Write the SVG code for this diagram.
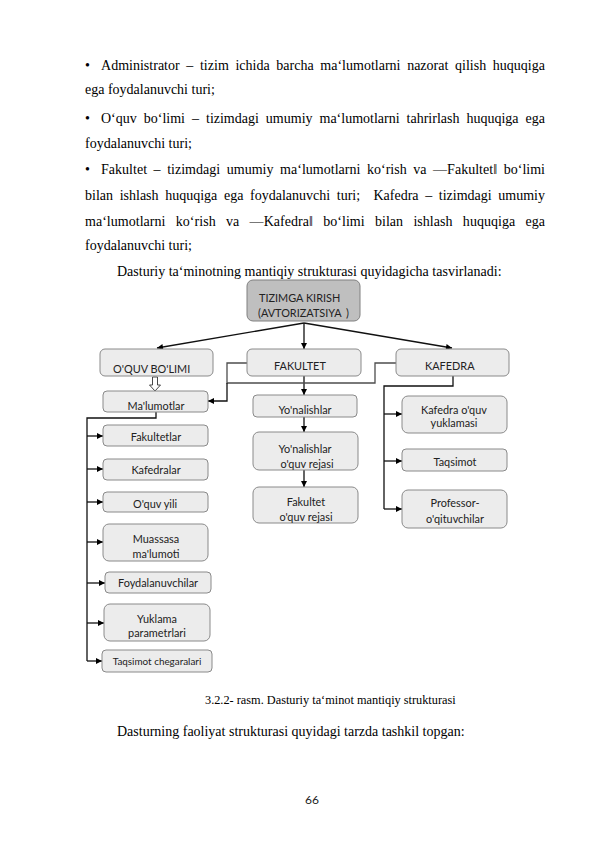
<svg xmlns="http://www.w3.org/2000/svg" width="595" height="842" viewBox="0 0 595 842">
<defs>
<style>
.body{font-family:"Liberation Serif","Times New Roman",serif;font-size:14px;fill:#000}
.cap{font-family:"Liberation Serif","Times New Roman",serif;font-size:12.3px;fill:#000}
.box{fill:#ececec;stroke:#8a8a8a;stroke-width:1}
.top{fill:#bfbfbf;stroke:#808080;stroke-width:1}
.lb{font-family:Lato,"Noto Sans",sans-serif;font-size:10.9px;fill:#222}
.sm{font-size:9.9px}
.c{text-anchor:middle}
.ln{fill:none;stroke:#111;stroke-width:1.3}
.gl{fill:none;stroke:#4d4d4d;stroke-width:1.3}
</style>
<marker id="ah" viewBox="0 0 10 10" refX="10" refY="5" markerWidth="7" markerHeight="6" markerUnits="userSpaceOnUse" orient="auto">
<path d="M0,0 L10,5 L0,10 z" fill="#000"/>
</marker>
</defs>
<rect width="595" height="842" fill="#fff"/>

<g id="body-text">
<text class="body" x="85" y="70">•</text>
<text class="body" x="101" y="70" word-spacing="3.1" textLength="444" lengthAdjust="spacing">Administrator – tizim ichida barcha ma‘lumotlarni nazorat qilish huquqiga</text>
<text class="body" x="85" y="94">ega foydalanuvchi turi;</text>
<text class="body" x="85" y="123">•</text>
<text class="body" x="101" y="123" word-spacing="3.5" textLength="444" lengthAdjust="spacing">O‘quv bo‘limi – tizimdagi umumiy ma‘lumotlarni tahrirlash huquqiga ega</text>
<text class="body" x="85" y="148">foydalanuvchi turi;</text>
<text class="body" x="85" y="174">•</text>
<text class="body" x="101" y="174" word-spacing="3" textLength="444" lengthAdjust="spacing">Fakultet – tizimdagi umumiy ma‘lumotlarni ko‘rish va ―Fakultet‖ bo‘limi</text>
<text class="body" x="85" y="200" word-spacing="3.1" textLength="460" lengthAdjust="spacing" xml:space="preserve">bilan ishlash huquqiga ega foydalanuvchi turi;  Kafedra – tizimdagi umumiy</text>
<text class="body" x="85" y="226" word-spacing="6.8" textLength="460" lengthAdjust="spacing">ma‘lumotlarni ko‘rish va ―Kafedra‖ bo‘limi bilan ishlash huquqiga ega</text>
<text class="body" x="85" y="250">foydalanuvchi turi;</text>
<text class="body" x="117" y="276">Dasturiy ta‘minotning mantiqiy strukturasi quyidagicha tasvirlanadi:</text>
</g>

<g id="connectors">
<path class="ln" d="M304,323 L157,348" marker-end="url(#ah)"/>
<path class="ln" d="M304,323 L304,349" marker-end="url(#ah)"/>
<path class="ln" d="M304,323 L452,348" marker-end="url(#ah)"/>
<path class="ln" d="M304,376 L304,395" marker-end="url(#ah)"/>
<path class="ln" d="M304,417 L304,432" marker-end="url(#ah)"/>
<path class="ln" d="M304,470 L304,487" marker-end="url(#ah)"/>
<path class="gl" d="M247,363 L227,363 L227,383 L375,383 L375,363 L396,363"/>
<path class="ln" d="M227,383 L227,401 L208,401" marker-end="url(#ah)"/>
<polygon points="152.5,377 157.5,377 157.5,385 160.5,385 155,391 149.5,385 152.5,385" fill="#fff" stroke="#333" stroke-width="0.9"/>
<path class="ln" d="M156,412 L156,418 L87,418 L87,661"/>
<path class="ln" d="M87,436 L103,436" marker-end="url(#ah)"/>
<path class="ln" d="M87,469 L103,469" marker-end="url(#ah)"/>
<path class="ln" d="M87,502 L103,502" marker-end="url(#ah)"/>
<path class="ln" d="M87,542 L103,542" marker-end="url(#ah)"/>
<path class="ln" d="M87,583 L105,583" marker-end="url(#ah)"/>
<path class="ln" d="M87,623 L104,623" marker-end="url(#ah)"/>
<path class="ln" d="M87,661 L102,661" marker-end="url(#ah)"/>
<path class="ln" d="M453,376 L453,386 L384,386 L384,509"/>
<path class="ln" d="M384,414 L402,414" marker-end="url(#ah)"/>
<path class="ln" d="M384,461 L402,461" marker-end="url(#ah)"/>
<path class="ln" d="M384,509 L402,509" marker-end="url(#ah)"/>
</g>

<g id="n-tizimga">
<rect class="top" x="247" y="280" width="113" height="41" rx="6"/>
<text class="lb" x="259" y="302">TIZIMGA KIRISH</text>
<text class="lb" x="258" y="317">(AVTORIZATSIYA</text>
<text class="lb" x="346" y="317">)</text>
</g>
<g id="n-oquv">
<rect class="box" x="100" y="349" width="113" height="27" rx="5"/>
<text class="lb" x="113" y="373">O'QUV BO'LIMI</text>
</g>
<g id="n-fakultet">
<rect class="box" x="247" y="349" width="114" height="27" rx="5"/>
<text class="lb" x="274" y="370">FAKULTET</text>
</g>
<g id="n-kafedra">
<rect class="box" x="396" y="349" width="113" height="27" rx="5"/>
<text class="lb" x="425" y="370">KAFEDRA</text>
</g>
<g id="n-malumotlar">
<rect class="box" x="103" y="391" width="105" height="21" rx="4"/>
<text class="lb c" x="156" y="410">Ma'lumotlar</text>
</g>
<g id="n-fakultetlar">
<rect class="box" x="103" y="425" width="105" height="21" rx="4"/>
<text class="lb c" x="156" y="441">Fakultetlar</text>
</g>
<g id="n-kafedralar">
<rect class="box" x="103" y="459" width="105" height="21" rx="4"/>
<text class="lb c" x="156" y="474">Kafedralar</text>
</g>
<g id="n-oquvyili">
<rect class="box" x="103" y="492" width="105" height="20" rx="4"/>
<text class="lb c" x="155" y="508">O'quv yili</text>
</g>
<g id="n-muassasa">
<rect class="box" x="103" y="524" width="105" height="37" rx="6"/>
<text class="lb c" x="156" y="543">Muassasa</text>
<text class="lb c" x="156" y="558">ma'lumoti</text>
</g>
<g id="n-foydalanuvchilar">
<rect class="box" x="105" y="572" width="106" height="21" rx="4"/>
<text class="lb c" x="158" y="587">Foydalanuvchilar</text>
</g>
<g id="n-yuklama">
<rect class="box" x="104" y="604" width="106" height="37" rx="6"/>
<text class="lb c" x="157" y="623">Yuklama</text>
<text class="lb c" x="157" y="637">parametrlari</text>
</g>
<g id="n-taqsimotcheg">
<rect class="box" x="102" y="650" width="110" height="22" rx="4"/>
<text class="lb sm c" x="157" y="665">Taqsimot chegaralari</text>
</g>
<g id="n-yonalishlar">
<rect class="box" x="253" y="395" width="104" height="22" rx="4"/>
<text class="lb c" x="305" y="414">Yo'nalishlar</text>
</g>
<g id="n-yonalishlar-reja">
<rect class="box" x="253" y="432" width="105" height="38" rx="6"/>
<text class="lb c" x="305" y="453">Yo'nalishlar</text>
<text class="lb c" x="307" y="468">o'quv rejasi</text>
</g>
<g id="n-fakultet-reja">
<rect class="box" x="253" y="487" width="105" height="36" rx="6"/>
<text class="lb c" x="306" y="506">Fakultet</text>
<text class="lb c" x="306" y="521">o'quv rejasi</text>
</g>
<g id="n-kafedra-yuklama">
<rect class="box" x="402" y="396" width="105" height="37" rx="6"/>
<text class="lb c" x="454" y="414">Kafedra o'quv</text>
<text class="lb c" x="454" y="427">yuklamasi</text>
</g>
<g id="n-taqsimot">
<rect class="box" x="402" y="449" width="105" height="22" rx="4"/>
<text class="lb c" x="455" y="466">Taqsimot</text>
</g>
<g id="n-professor">
<rect class="box" x="402" y="490" width="105" height="38" rx="6"/>
<text class="lb c" x="455" y="507">Professor-</text>
<text class="lb c" x="455" y="523">o'qituvchilar</text>
</g>

<g id="footer-text">
<text class="cap" x="205" y="704">3.2.2- rasm. Dasturiy ta‘minot mantiqiy strukturasi</text>
<text class="body" x="117" y="736">Dasturning faoliyat strukturasi quyidagi tarzda tashkil topgan:</text>
<text x="312" y="804" text-anchor="middle" font-family="Lato, 'Noto Sans', sans-serif" font-size="12" fill="#222">66</text>
</g>
</svg>
